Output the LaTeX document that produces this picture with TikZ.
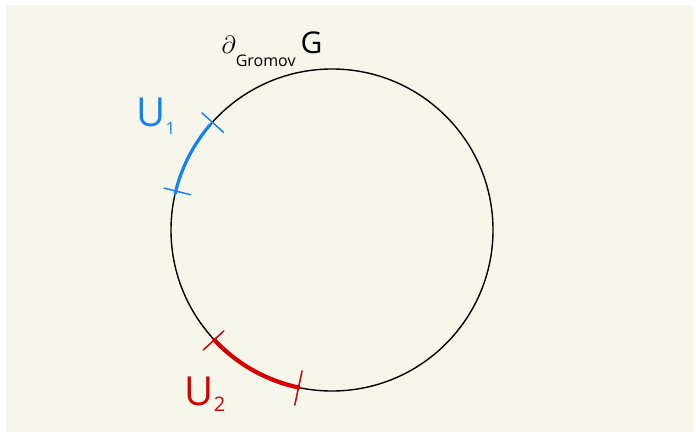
\documentclass[tikz,border=0pt]{standalone}
\usepackage{fontspec}
\setmainfont{Open Sans}
\usetikzlibrary{calc}
\definecolor{bgbeige}{RGB}{247,246,234}
\definecolor{ublue}{RGB}{22,128,245}
\definecolor{ured}{RGB}{212,0,0}
\begin{document}
\begin{tikzpicture}[x=1pt,y=1pt,
  circ/.style={line width=1.4pt,black},
  bluearc/.style={line width=3.2pt,ublue,line cap=round},
  redarc/.style={line width=4.2pt,ured,line cap=round},
  tickb/.style={line width=1.5pt,ublue,line cap=round},
  tickr/.style={line width=1.5pt,ured,line cap=round},
  lab/.style={inner sep=0pt,outer sep=0pt}]
\useasboundingbox (0,0) rectangle (696,437);
\fill[white] (0,0) rectangle (696,437);
\fill[bgbeige] (6,5) rectangle (693,432);
\coordinate (c) at (332,207);
\draw[circ] (c) circle[radius=161];
% blue arc U1
\draw[bluearc] ($(c)+(139:161)$) arc[start angle=139,end angle=167,radius=161];
\draw[tickb] ($(c)+(138:146)$) -- ($(c)+(138:175)$);
\draw[tickb] ($(c)+(166:146)$) -- ($(c)+(166:173)$);
% red arc U2
\draw[redarc] ($(c)+(223:161)$) arc[start angle=223,end angle=258,radius=161];
\draw[tickr] ($(c)+(223:148)$) -- ($(c)+(223:176)$);
\draw[tickr] ($(c)+(258:144)$) -- ($(c)+(258:179)$);
% labels
\node[lab,ublue] (u1) at (156,321) {{\fontsize{40}{40}\selectfont U}\raisebox{-8pt}{\fontsize{17}{17}\selectfont 1}};
\node[lab,ured] (u2) at (205,43) {{\fontsize{40}{40}\selectfont U}\raisebox{-6pt}{\fontsize{20}{20}\selectfont 2}};
\node[lab] (dg) at (272,388) {{\fontsize{50}{50}\selectfont$\partial$}\raisebox{-13pt}{\fontsize{16}{16}\selectfont Gromov}\hspace{5pt}{\fontsize{30}{30}\selectfont G}};
\end{tikzpicture}
\end{document}
